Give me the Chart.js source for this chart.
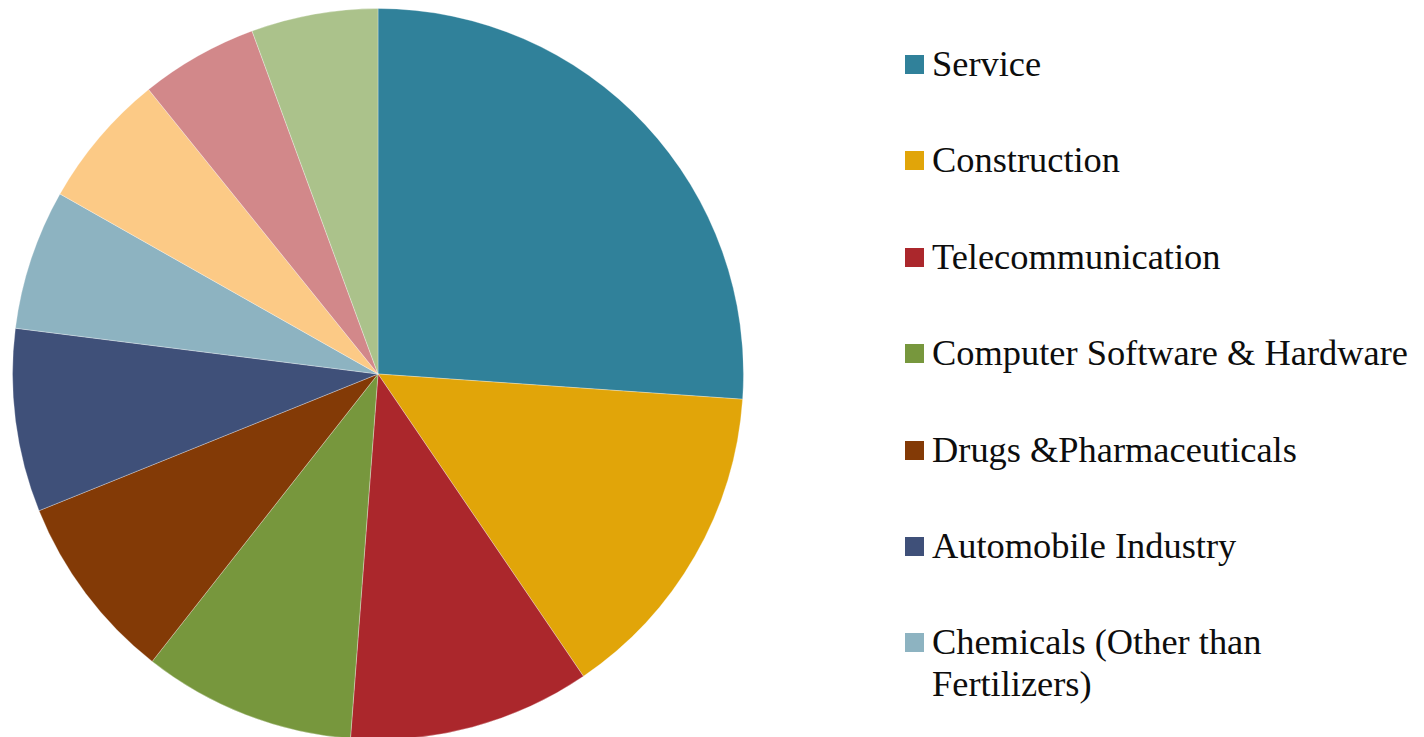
<!DOCTYPE html>
<html>
<head>
<meta charset="utf-8">
<script src="https://cdn.jsdelivr.net/npm/chart.js@4/dist/chart.umd.min.js"></script>
<style>
  html, body { margin: 0; padding: 0; background: #ffffff; overflow: hidden; }
  body { width: 1424px; height: 737px; position: relative; }
  #pieWrap { position: absolute; left: 12px; top: 8px; width: 732px; height: 732px; }
  #legend { position: absolute; left: 905px; top: 44px; width: 519px; height: 668px; overflow: hidden;
            margin: 0; padding: 0; list-style: none;
            font-family: "Liberation Serif", serif; font-size: 36.4px; line-height: 41.7px; color: #0d0d0d; }
  #legend li { position: relative; height: 96.4px; padding-left: 27px; }
  #legend .box { position: absolute; left: 0; top: 11px; width: 19px; height: 19px; }
</style>
</head>
<body>
<div id="pieWrap"><canvas id="pie"></canvas></div>
<ul id="legend"></ul>
<script>
// Sector shares (% of total)
const sectors = [
  "Service",
  "Construction",
  "Telecommunication",
  "Computer Software & Hardware",
  "Drugs &Pharmaceuticals",
  "Automobile Industry",
  "Chemicals (Other than Fertilizers)",
  "Power",
  "Metallurgical Industries",
  "Hotel & Tourism"
];
const shares = [26.1, 14.4, 10.7, 9.4, 8.3, 8.1, 6.2, 6.0, 5.2, 5.6];
const sliceColors = [
  "#30819A", "#E1A509", "#AB272C", "#77973D", "#833A06",
  "#3F5079", "#8DB3C1", "#FCCA86", "#D2888A", "#ABC28B"
];

const chart = new Chart(document.getElementById("pie"), {
  type: "pie",
  data: {
    labels: sectors,
    datasets: [{
      data: shares,
      backgroundColor: sliceColors,
      borderColor: "rgba(255,255,255,0.3)",
      borderWidth: 1
    }]
  },
  options: {
    responsive: true,
    maintainAspectRatio: false,
    animation: false,
    layout: { padding: 0 },
    plugins: {
      legend: { display: false },
      tooltip: { enabled: false }
    }
  }
});

// Legend built from the chart's own labels and colours; rows past the panel height are clipped
const legendEl = document.getElementById("legend");
chart.data.labels.forEach((label, i) => {
  const li = document.createElement("li");
  const box = document.createElement("span");
  box.className = "box";
  box.style.background = chart.data.datasets[0].backgroundColor[i];
  li.appendChild(box);
  li.appendChild(document.createTextNode(label));
  legendEl.appendChild(li);
});
</script>
</body>
</html>
